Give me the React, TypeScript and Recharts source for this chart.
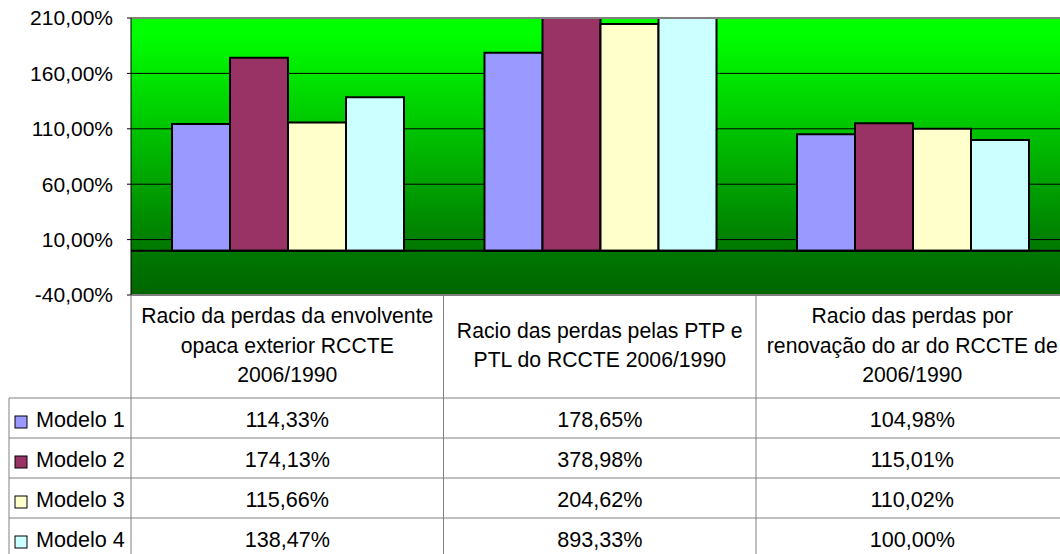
import { BarChart, Bar, XAxis, YAxis, CartesianGrid, ReferenceLine } from 'recharts'

const categoryKeys = ['envolvente', 'ptp', 'renovacao']
const categoryLines = [
  ['Racio da perdas da envolvente', 'opaca exterior RCCTE', '2006/1990'],
  ['Racio das perdas pelas PTP e', 'PTL do RCCTE 2006/1990'],
  ['Racio das perdas por', 'renovação do ar do RCCTE de', '2006/1990'],
]
const seriesNames = ['Modelo 1', 'Modelo 2', 'Modelo 3', 'Modelo 4']
const modelo1 = [114.33, 178.65, 104.98]
const modelo2 = [174.13, 378.98, 115.01]
const modelo3 = [115.66, 204.62, 110.02]
const modelo4 = [138.47, 893.33, 100.0]
const yTicks = [-40, 10, 60, 110, 160, 210]
const innerGrid = [10, 60, 110, 160]

const seriesValues = [modelo1, modelo2, modelo3, modelo4]
const seriesColors = ['#9999ff', '#993366', '#ffffcc', '#ccffff']

const data = categoryKeys.map((cat, i) => ({
  cat,
  m1: modelo1[i],
  m2: modelo2[i],
  m3: modelo3[i],
  m4: modelo4[i],
}))

const FONT = '"Liberation Sans", Arial, sans-serif'
const CHART_W = 1070
const CHART_H = 570
const MARGIN = { top: 18, right: 1.5, left: 0, bottom: 0 }
const YAXIS_W = 131
const PLOT_H = 277
const COL_W = (CHART_W - MARGIN.left - MARGIN.right - YAXIS_W) / categoryKeys.length
const HEADER_H = 103
const ROW_H = 40
const LEGEND_LEFT = 9
const GRID_GREY = '#808080'

const pct = (v: number) => `${v.toFixed(2).replace('.', ',')}%`

function TableColumn(props: any) {
  const { x, y, index } = props
  const half = COL_W / 2
  const left = x - half
  const right = x + half
  const bottom = y + HEADER_H + ROW_H * seriesNames.length + 30
  const lines = categoryLines[index]
  const mid = y + 50.5

  return (
    <g fontFamily={FONT} fontSize={21.6} fill="#000">
      {index === 0 && <line x1={left} x2={left} y1={y} y2={bottom} stroke={GRID_GREY} />}
      <line x1={right} x2={right} y1={y} y2={bottom} stroke={GRID_GREY} />
      {lines.map((t, i) => (
        <text
          key={i}
          x={x}
          y={mid + 7 + (i - (lines.length - 1) / 2) * 29.5}
          textAnchor="middle"
          fontSize={21.2}
        >
          {t}
        </text>
      ))}
      {seriesNames.map((_, k) => {
        const rowTop = y + HEADER_H + ROW_H * k
        return (
          <g key={k}>
            <line x1={left} x2={right} y1={rowTop} y2={rowTop} stroke={GRID_GREY} />
            <text x={x} y={rowTop + 29} textAnchor="middle">
              {pct(seriesValues[k][index])}
            </text>
          </g>
        )
      })}
      {index === 0 && (
        <g>
          <line
            x1={LEGEND_LEFT}
            x2={LEGEND_LEFT}
            y1={y + HEADER_H}
            y2={bottom}
            stroke={GRID_GREY}
          />
          {seriesNames.map((name, k) => {
            const rowTop = y + HEADER_H + ROW_H * k
            return (
              <g key={name}>
                <line
                  x1={LEGEND_LEFT}
                  x2={left}
                  y1={rowTop}
                  y2={rowTop}
                  stroke={GRID_GREY}
                />
                <rect
                  x={15}
                  y={rowTop + 18}
                  width={12}
                  height={12}
                  fill={seriesColors[k]}
                  stroke="#000"
                  strokeWidth={1}
                />
                <text x={36} y={rowTop + 29} textAnchor="start">
                  {name}
                </text>
              </g>
            )
          })}
        </g>
      )}
    </g>
  )
}

export default function App() {
  return (
    <div
      style={{
        position: 'absolute',
        left: 0,
        top: 0,
        width: 1060,
        height: 554,
        overflow: 'hidden',
        background: '#fff',
      }}
    >
      <BarChart
        width={CHART_W}
        height={CHART_H}
        data={data}
        margin={MARGIN}
        barGap={0}
        barCategoryGap={41}
      >
        <defs>
          <linearGradient id="plotGrad" x1="0" y1="0" x2="0" y2="1">
            <stop offset="0%" stopColor="#00ff00" />
            <stop offset="6%" stopColor="#00ff00" />
            <stop offset="84%" stopColor="#007800" />
            <stop offset="100%" stopColor="#006600" />
          </linearGradient>
        </defs>
        <CartesianGrid
          vertical={false}
          horizontalValues={innerGrid}
          stroke="#000"
          strokeOpacity={1}
          fill="url(#plotGrad)"
          fillOpacity={1}
        />
        <XAxis
          dataKey="cat"
          interval={0}
          height={CHART_H - MARGIN.top - PLOT_H}
          axisLine={false}
          tickLine={false}
          tickSize={0}
          tickMargin={0}
          tick={<TableColumn />}
        />
        <YAxis
          width={YAXIS_W}
          domain={[-40, 210]}
          ticks={yTicks}
          allowDataOverflow
          interval={0}
          tickFormatter={pct}
          axisLine={{ stroke: '#000', strokeWidth: 1 }}
          tickLine={{ stroke: '#000' }}
          tickSize={4}
          tickMargin={14}
          tick={{ fontSize: 21, fill: '#000', fontFamily: FONT }}
        />
        <ReferenceLine y={210} stroke={GRID_GREY} strokeWidth={2} />
        <ReferenceLine y={-40} stroke={GRID_GREY} strokeWidth={2} />
        {seriesNames.map((name, k) => (
          <Bar
            key={name}
            name={name}
            dataKey={`m${k + 1}`}
            fill={seriesColors[k]}
            stroke="#000"
            strokeWidth={2}
            isAnimationActive={false}
          />
        ))}
        <ReferenceLine y={0} stroke="#000" strokeWidth={2} />
      </BarChart>
    </div>
  )
}
